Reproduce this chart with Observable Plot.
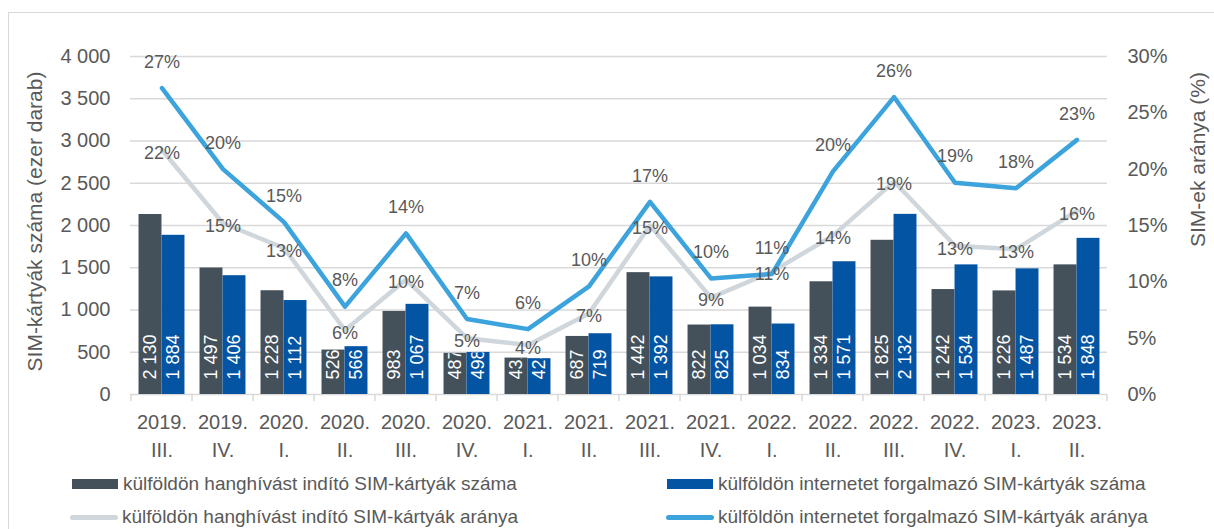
<!DOCTYPE html>
<html>
<head>
<meta charset="utf-8">
<script src="https://cdn.jsdelivr.net/npm/d3@7"></script>
<script src="https://cdn.jsdelivr.net/npm/@observablehq/plot@0.6"></script>
<style>
  html, body { margin: 0; padding: 0; background: #fff; }
  #wrap { position: relative; width: 1214px; height: 529px; overflow: hidden; font-family: "Liberation Sans", Arial, sans-serif; }
  #frame { position: absolute; left: 8px; top: 12px; width: 1240px; height: 560px; border: 1.5px solid #d9d9d9; box-sizing: border-box; }
  #chart { position: absolute; left: 0; top: 0; }
  .lg { position: absolute; display: flex; align-items: center; font-size: 19px; color: #595959; white-space: nowrap; height: 24px; }
  .sw-bar { width: 46px; height: 10px; margin-right: 5px; }
  .sw-line { width: 48px; height: 5px; border-radius: 3px; margin-right: 4px; }
</style>
</head>
<body>
<div id="wrap">
  <div id="frame"></div>
  <div id="chart"></div>
  <div class="lg" style="left:72px; top:472px;"><div class="sw-bar" style="background:#44505a"></div><span>külföldön hanghívást indító SIM-kártyák száma</span></div>
  <div class="lg" style="left:667px; top:472px;"><div class="sw-bar" style="background:#0454a4"></div><span>külföldön internetet forgalmazó SIM-kártyák száma</span></div>
  <div class="lg" style="left:70px; top:505px;"><div class="sw-line" style="background:#cfd7dc"></div><span>külföldön hanghívást indító SIM-kártyák aránya</span></div>
  <div class="lg" style="left:666px; top:505px;"><div class="sw-line" style="background:#3ca3dc"></div><span>külföldön internetet forgalmazó SIM-kártyák aránya</span></div>
</div>
<script>
const years = ["2019.","2019.","2020.","2020.","2020.","2020.","2021.","2021.","2021.","2021.","2022.","2022.","2022.","2022.","2023.","2023."];
const quarters = ["III.","IV.","I.","II.","III.","IV.","I.","II.","III.","IV.","I.","II.","III.","IV.","I.","II."];
const voiceCount = [2130, 1497, 1228, 526, 983, 487, 431, 687, 1442, 822, 1034, 1334, 1825, 1242, 1226, 1534];
const netCount   = [1884, 1406, 1112, 566, 1067, 498, 424, 719, 1392, 825, 834, 1571, 2132, 1534, 1487, 1848];
const voiceShare = [21.7, 15.2, 13.0, 5.7, 10.2, 5.0, 4.4, 7.2, 15.0, 8.6, 10.9, 14.1, 18.9, 13.2, 12.9, 16.3];
const netShare   = [27.2, 20.0, 15.3, 7.8, 14.3, 6.7, 5.8, 9.6, 17.1, 10.3, 10.7, 19.8, 26.4, 18.8, 18.3, 22.6];
const leftTicks = [0, 500, 1000, 1500, 2000, 2500, 3000, 3500, 4000];
const rightTicks = [0, 5, 10, 15, 20, 25, 30];
const leftTitle = "SIM-kártyák száma (ezer darab)";
const rightTitle = "SIM-ek aránya (%)";

const yMax = 4000, pMax = 30, k = yMax / pMax;
const periods = years.map((y, i) => y + "\n" + quarters[i]);
const data = periods.map((p, i) => ({period: p, voice: voiceCount[i], net: netCount[i], voiceShare: voiceShare[i], netShare: netShare[i]}));
const fmt = d => d3.format(",")(d).replace(/,/g, " ");

const W = 1214, H = 460, ML = 130, MR = 107, MT = 56, MB = 66;
const bw = (W - ML - MR) / periods.length;
const barW = 23;
const outer = bw / 2 - barW;
const labelLift = 15;
const C = {voice: "#44505a", net: "#0454a4", voiceLine: "#cfd7dc", netLine: "#3ca3dc", text: "#595959", grid: "#d9d9d9"};

const chart = Plot.plot({
  width: W, height: H,
  marginLeft: ML, marginRight: MR, marginTop: MT, marginBottom: MB,
  style: {fontFamily: "'Liberation Sans', Arial, sans-serif", color: C.text, background: "transparent", overflow: "visible"},
  x: {type: "band", domain: periods, paddingInner: 0, paddingOuter: 0, label: null},
  y: {domain: [0, yMax], label: null},
  marks: [
    Plot.gridY(leftTicks.filter(d => d > 0), {stroke: C.grid, strokeOpacity: 1, strokeWidth: 1.3}),
    Plot.ruleY([0], {stroke: C.grid, strokeWidth: 1.5}),
    Plot.barY(data, {x: "period", y: "voice", fill: C.voice, insetLeft: outer, insetRight: bw / 2}),
    Plot.barY(data, {x: "period", y: "net", fill: C.net, insetLeft: bw / 2, insetRight: outer}),
    Plot.line(data, {x: "period", y: d => d.voiceShare * k, stroke: C.voiceLine, strokeWidth: 4.5, strokeLinejoin: "round", strokeLinecap: "round"}),
    Plot.line(data, {x: "period", y: d => d.netShare * k, stroke: C.netLine, strokeWidth: 4.5, strokeLinejoin: "round", strokeLinecap: "round"}),
    Plot.text(data, {x: "period", y: () => 0, text: d => fmt(d.voice), rotate: -90, textAnchor: "start", fill: "white", fontSize: 18, dx: -barW / 2, dy: -labelLift}),
    Plot.text(data, {x: "period", y: () => 0, text: d => fmt(d.net), rotate: -90, textAnchor: "start", fill: "white", fontSize: 18, dx: barW / 2, dy: -labelLift}),
    Plot.text(data, {x: "period", y: d => d.voiceShare * k, text: d => Math.round(d.voiceShare) + "%", fill: C.text, fontSize: 18, dy: 3}),
    Plot.text(data, {x: "period", y: d => d.netShare * k, text: d => Math.round(d.netShare) + "%", fill: C.text, fontSize: 18, dy: -26}),
    Plot.text([leftTitle], {text: d => d, frameAnchor: "left", textAnchor: "middle", lineAnchor: "middle", rotate: -90, dx: -95, dy: -4, fontSize: 21, fill: C.text}),
    Plot.text([rightTitle], {text: d => d, frameAnchor: "top-right", textAnchor: "middle", lineAnchor: "middle", rotate: -90, dx: 91, dy: 103, fontSize: 21, fill: C.text}),
    Plot.axisY({anchor: "left", ticks: leftTicks, tickFormat: fmt, tickSize: 0, tickPadding: 20, fontSize: 20, label: null}),
    Plot.axisY({anchor: "right", ticks: rightTicks.map(p => p * k), tickFormat: d => Math.round(d / k) + "%", tickSize: 0, tickPadding: 20, fontSize: 20, label: null}),
    Plot.axisX({anchor: "bottom", tickSize: 0, tickPadding: 15, fontSize: 20, lineHeight: 1.4, label: null})
  ]
});
document.getElementById("chart").appendChild(chart);

// tick marks at the band boundaries and clipping of the bar labels to their bars
const xs = chart.scale("x"), ys = chart.scale("y");
const y0 = ys.apply(0);
const svg = d3.select(chart);
const tickG = svg.append("g").attr("stroke", C.grid).attr("stroke-width", 1.5);
const bounds = periods.map(p => xs.apply(p)).concat([xs.apply(periods[periods.length - 1]) + xs.bandwidth]);
bounds.forEach(x => tickG.append("line").attr("x1", x).attr("x2", x).attr("y1", y0).attr("y2", y0 + 7));

const defs = svg.append("defs");
const textGroups = chart.querySelectorAll('g[aria-label="text"]');
["voice", "net"].forEach((key, j) => {
  const texts = textGroups[j].querySelectorAll("text");
  texts.forEach((t, i) => {
    const avail = (y0 - labelLift) - ys.apply(data[i][key]);
    const id = `clip-${j}-${i}`;
    defs.append("clipPath").attr("id", id).attr("clipPathUnits", "userSpaceOnUse")
      .append("rect").attr("x", -5).attr("y", -20).attr("width", avail + 5).attr("height", 40);
    t.setAttribute("clip-path", `url(#${id})`);
  });
});
</script>
</body>
</html>
